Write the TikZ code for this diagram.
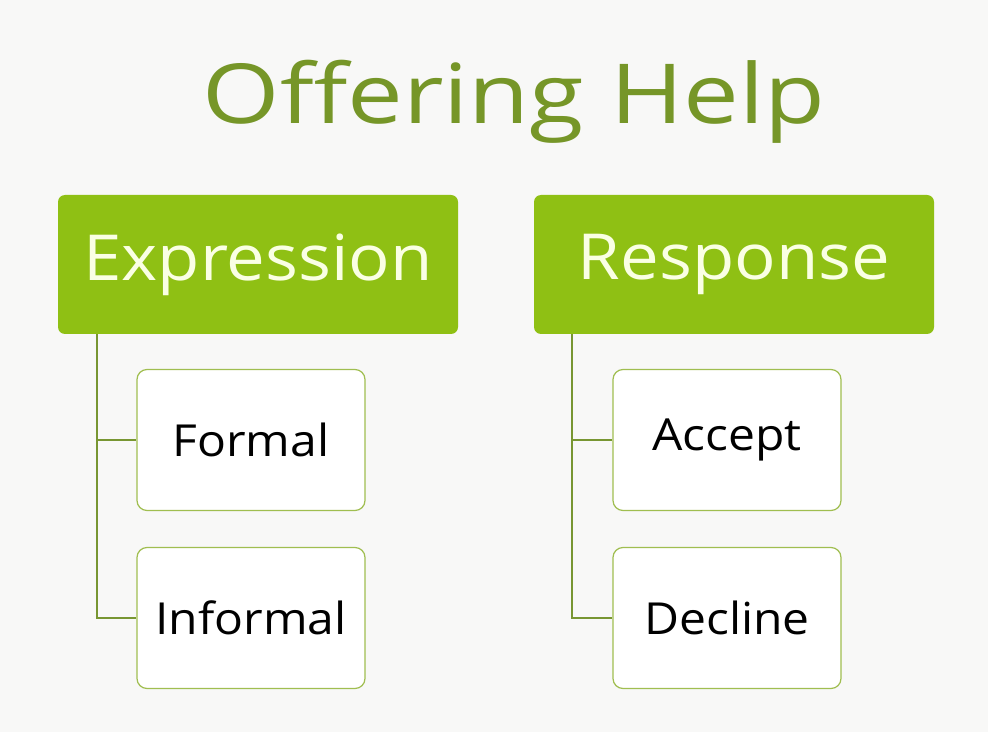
\documentclass[tikz,border=0pt]{standalone}
\usepackage{fontspec}
\setmainfont{Open Sans}
\definecolor{bgc}{RGB}{248,248,247}
\definecolor{hdr}{RGB}{143,192,20}
\definecolor{ttl}{RGB}{118,150,40}
\definecolor{bord}{RGB}{160,190,80}
\definecolor{conn}{RGB}{120,150,50}
\definecolor{htxt}{RGB}{250,255,228}
\newcommand{\hx}[1]{\scalebox{1.5}[1.38]{#1}}
\tikzset{
  header/.style={fill=hdr, rounded corners=7pt, minimum width=400pt, minimum height=139pt, inner sep=0pt, text=htxt, font=\fontsize{46}{50}\selectfont},
  item/.style={draw=bord, line width=1.2pt, fill=white, rounded corners=10pt, minimum width=228pt, minimum height=141pt, inner sep=0pt, text=black, font=\fontsize{32}{36}\selectfont},
  conn/.style={draw=conn, line width=1.3pt}
}
\begin{document}
\begin{tikzpicture}[x=1pt,y=1pt]
\useasboundingbox (0,0) rectangle (988,732);
\fill[bgc] (0,0) rectangle (988,732);
\node[text=ttl, font=\fontsize{72}{80}\selectfont] (title) at (514,630) {\scalebox{1.38}[1.15]{Offering Help}};
\node[header] (expr) at (258,467.5) {\hx{Expression}};
\node[header] (resp) at (734,467.5) {\hx{Response}};
\node[item] (formal) at (251,292) {\hx{Formal}};
\node[item] (informal) at (251,114) {\hx{Informal}};
\node[item] (accept) at (727,292) {\hx{Accept}};
\node[item] (decline) at (727,114) {\hx{Decline}};
\coordinate (el) at (97,0);
\coordinate (rl) at (572,0);
\draw[conn] (expr.south west -| el) |- (formal.west);
\draw[conn] (expr.south west -| el) |- (informal.west);
\draw[conn] (resp.south west -| rl) |- (accept.west);
\draw[conn] (resp.south west -| rl) |- (decline.west);
\end{tikzpicture}
\end{document}
